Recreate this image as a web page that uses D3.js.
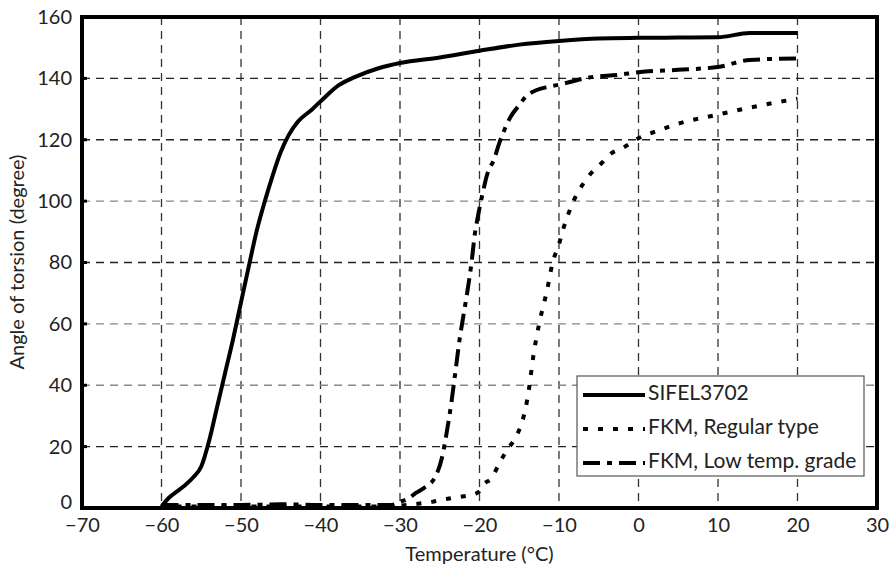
<!DOCTYPE html>
<html><head><meta charset="utf-8">
<script src="https://cdn.jsdelivr.net/npm/d3@7"></script>
<style>body{margin:0;background:#fff}text{font-family:Lato,"Open Sans",sans-serif;fill:#222}</style>
</head><body><svg id="c" width="895" height="566"></svg>
<script>
const xTicks = [-70,-60,-50,-40,-30,-20,-10,0,10,20,30];
const yTicks = [0,20,40,60,80,100,120,140,160];
const gridX = [-60,-50,-40,-30,-20,-10,0,10,20];
const gridY = [20,40,60,80,100,120,140];
const gridYLight = [40,60,100];

const sifelT = [-60,-59,-58,-57,-56,-55,-54,-53,-52,-51,-50,-49,-48,-47,-46,-45,-44,-42.8,-41.1,-40,-37.7,-35.7,-32.7,-30,-25,-20,-15,-10,-5,0,5,10,14,20];
const sifelV = [0.5,3.5,5.5,7.5,10,13.5,22,33,44,55,67,79,90.6,100,108.5,116,121.5,126,129.8,132.5,137.8,140.4,143.3,145,146.8,149,151,152.2,153,153.2,153.3,153.4,154.8,154.8];

const regT = [-60,-50,-40,-32,-30,-28,-26,-24,-22,-21,-20,-19.7,-18.4,-17.5,-16.5,-15.5,-14.7,-14.2,-13.8,-13.2,-12.5,-11.5,-10.8,-10,-9.5,-8.8,-8,-7,-6,-4.6,-3.7,-1.8,0,2.5,4.7,10,15,20];
const regV = [0.5,0.5,0.5,0.5,0.8,1.3,2,3,3.8,4.2,5.5,7,10,14.6,19,22.8,27.6,32.5,38.4,50,60,71,80,86,90.6,96,101,105.5,109,112.5,115,117.6,120.5,123,125,128.2,131,133.4];

const lowT = [-60,-55,-50,-45,-40,-35,-31,-30,-29,-28,-27,-25.6,-24.7,-24.1,-23.5,-23,-22.5,-22,-21.5,-21,-20.6,-20.2,-19.6,-19,-18.2,-17.5,-16.9,-16.1,-15,-14.2,-12.8,-11.2,-9.9,-6.2,-2.4,0,5,10,14,20];
const lowV = [1,1,1,1.2,1,1,1,2,3,4.9,6.5,10,16.6,25,35,45,55,63,71,80,89,95,102.6,109,113.4,119,123,127.4,131.3,134,136.2,137.3,138,140.3,141.2,142,142.8,143.7,146,146.5];

const seriesNames = ["SIFEL3702","FKM, Regular type","FKM, Low temp. grade"];

const svg = d3.select("#c");
const L=82, R=877, T=17, B=508;
const x = d3.scaleLinear().domain([-70,30]).range([L,R]);
const y = d3.scaleLinear().domain([0,160]).range([B,T]);

// grid
svg.append("g").selectAll("line").data(gridX).join("line")
  .attr("x1",d=>x(d)).attr("x2",d=>x(d)).attr("y1",T).attr("y2",B)
  .attr("stroke","#333").attr("stroke-width",1.3).attr("stroke-dasharray","8,6");
svg.append("g").selectAll("line").data(gridY).join("line")
  .attr("y1",d=>y(d)).attr("y2",d=>y(d)).attr("x1",L).attr("x2",R)
  .attr("stroke",d=>gridYLight.includes(d)?"#888":"#222").attr("stroke-width",1.3).attr("stroke-dasharray","8,6");

// axes
const xAxis = d3.axisBottom(x).tickValues(xTicks).tickSize(0).tickPadding(10)
  .tickFormat(d=>d<0?"\u2212"+Math.abs(d):d);
const gx = svg.append("g").attr("transform",`translate(0,${B})`).call(xAxis);
gx.select(".domain").remove();
gx.selectAll("text").attr("font-size",20).style("font-family","Lato").attr("fill","#222");
const yAxis = d3.axisLeft(y).tickValues(yTicks).tickSize(0).tickPadding(10);
const gy = svg.append("g").attr("transform",`translate(${L},0)`).call(yAxis);
gy.select(".domain").remove();
gy.selectAll("text").attr("font-size",20).style("font-family","Lato").attr("fill","#222");
gy.selectAll(".tick").filter(d=>d===0).select("text").attr("dy","0.0em");

// small tick stubs on left
svg.append("g").selectAll("line").data(gridY).join("line")
  .attr("x1",L).attr("x2",L+5).attr("y1",d=>y(d)).attr("y2",d=>y(d))
  .attr("stroke","#000").attr("stroke-width",3);

// lines
const line = d3.line().x(d=>x(d[0])).y(d=>y(d[1])).curve(d3.curveMonotoneX);
const styles = [
  {dash:null},
  {dash:"5,10"},
  {dash:"17,7,5,7"}
];
const data = [d3.zip(sifelT,sifelV), d3.zip(regT,regV), d3.zip(lowT,lowV)];
data.forEach((d,i)=>{
  svg.append("path").attr("d",line(d)).attr("fill","none").attr("stroke","#000")
    .attr("stroke-width",4).attr("stroke-dasharray",styles[i].dash);
});

// frame
svg.append("rect").attr("x",L).attr("y",T).attr("width",R-L).attr("height",B-T)
  .attr("fill","none").attr("stroke","#000").attr("stroke-width",4);

// legend
const lg = svg.append("g");
lg.append("rect").attr("x",577).attr("y",376).attr("width",287).attr("height",100)
  .attr("fill","#fff").attr("stroke","#555").attr("stroke-width",1.2);
seriesNames.forEach((n,i)=>{
  const yy = 393 + i*34;
  lg.append("line").attr("x1",583).attr("x2",645).attr("y1",yy+2).attr("y2",yy+2)
    .attr("stroke","#000").attr("stroke-width",4).attr("stroke-dasharray",styles[i].dash);
  lg.append("text").attr("x",648).attr("y",yy).attr("dy","0.35em").attr("font-size",21).text(n);
});

// axis titles
svg.append("text").attr("x",(L+R)/2).attr("y",561).attr("text-anchor","middle").attr("font-size",20).text("Temperature (°C)");
svg.append("text").attr("transform","translate(24,262) rotate(-90)").attr("text-anchor","middle").attr("font-size",20).text("Angle of torsion (degree)");
</script></body></html>
